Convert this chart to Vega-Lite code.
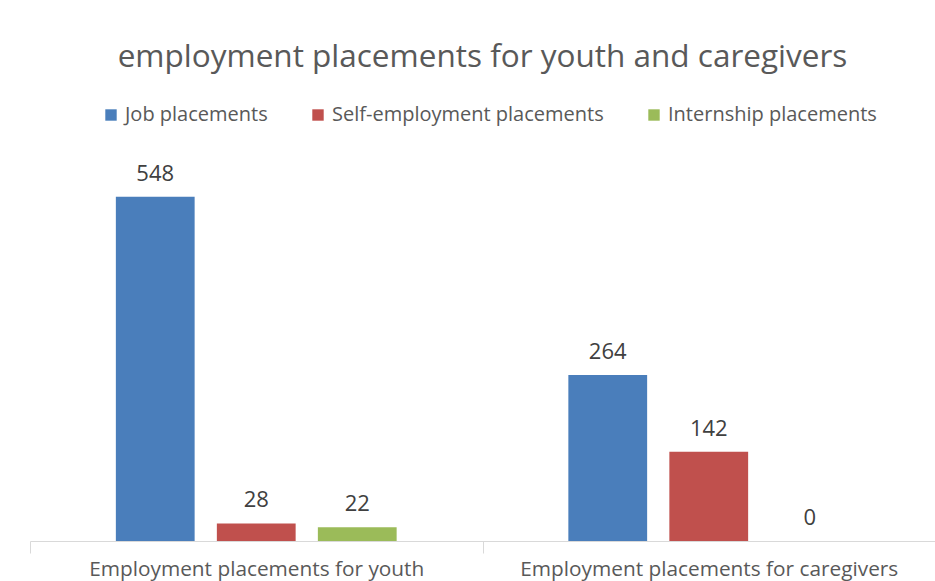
{
  "$schema": "https://vega.github.io/schema/vega-lite/v6.json",
  "autosize": "none",
  "width": 905,
  "height": 377,
  "padding": {"left": 30, "top": 164, "right": 0, "bottom": 40},
  "background": "white",
  "config": {
    "view": {"stroke": null},
    "font": "Open Sans"
  },
  "title": {
    "text": "employment placements for youth and caregivers",
    "anchor": "middle",
    "offset": 32,
    "fontSize": 31.5,
    "fontWeight": "normal",
    "color": "#595959",
    "font": "Open Sans"
  },
  "data": {
    "values": [
      {"group": "Employment placements for youth", "series": "Job placements", "value": 548},
      {"group": "Employment placements for youth", "series": "Self-employment placements", "value": 28},
      {"group": "Employment placements for youth", "series": "Internship placements", "value": 22},
      {"group": "Employment placements for caregivers", "series": "Job placements", "value": 264},
      {"group": "Employment placements for caregivers", "series": "Self-employment placements", "value": 142},
      {"group": "Employment placements for caregivers", "series": "Internship placements", "value": 0}
    ]
  },
  "encoding": {
    "x": {
      "field": "group",
      "type": "nominal",
      "sort": ["Employment placements for youth", "Employment placements for caregivers"],
      "scale": {"paddingInner": 0, "paddingOuter": 0},
      "axis": {
        "title": null,
        "labelAngle": 0,
        "labelFontSize": 20.8,
        "labelColor": "#595959",
        "labelPadding": 6,
        "labelLimit": 0,
        "domainColor": "#d9d9d9",
        "tickColor": "#d9d9d9",
        "tickBand": "extent",
        "tickSize": 12,
        "labelFont": "Open Sans"
      }
    },
    "xOffset": {
      "field": "series",
      "type": "nominal",
      "sort": ["Job placements", "Self-employment placements", "Internship placements"],
      "scale": {"paddingInner": 0.22, "paddingOuter": 0.85}
    },
    "y": {
      "field": "value",
      "type": "quantitative",
      "scale": {"domain": [0, 600]},
      "axis": null
    }
  },
  "layer": [
    {
      "mark": {"type": "bar"},
      "encoding": {
        "color": {
          "field": "series",
          "type": "nominal",
          "sort": ["Job placements", "Self-employment placements", "Internship placements"],
          "scale": {
            "domain": ["Job placements", "Self-employment placements", "Internship placements"],
            "range": ["#4a7ebb", "#c0504d", "#9bbb59"]
          },
          "legend": {
            "title": null,
            "orient": "none",
            "direction": "horizontal",
            "legendX": 71,
            "legendY": -59,
            "symbolType": "square",
            "symbolSize": 130,
            "symbolStrokeWidth": 0,
            "labelFontSize": 20,
            "labelLimit": 0,
            "labelColor": "#595959",
            "labelOffset": 4,
            "columnPadding": 40,
            "labelFont": "Open Sans"
          }
        }
      }
    },
    {
      "mark": {"type": "text", "baseline": "bottom", "dy": -11, "fontSize": 22, "color": "#404040", "font": "Open Sans"},
      "encoding": {
        "text": {"field": "value", "type": "quantitative"}
      }
    }
  ]
}
